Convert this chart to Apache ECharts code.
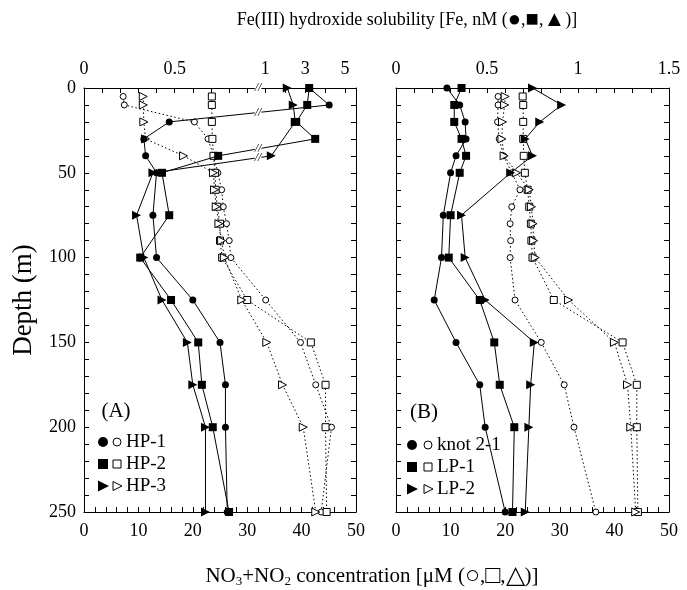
<!DOCTYPE html>
<html>
<head>
<meta charset="utf-8">
<script src="https://cdn.jsdelivr.net/npm/echarts@6/dist/echarts.min.js"></script>
<style>
    html, body { margin: 0; padding: 0; background: #fff; }
    #main { width: 687px; height: 590px; }
</style>
</head>
<body>
<div id="main"></div>
<script>
// sampling depths (m)
const feDepths = [0, 10, 20, 30, 40, 50, 75, 100, 125, 150, 175, 200, 250];
const no3Depths = [5, 10, 20, 30, 40, 50, 60, 70, 80, 90, 100, 125, 150, 175, 200, 250];

// panel A : Fe(III) hydroxide solubility (nM), null = no sample
const feHP1 = [3.2, 4.2, 0.47, 0.33, 0.34, 0.40, 0.38, 0.40, 0.60, 0.75, 0.78, 0.78, 0.79];
const feHP2 = [3.2, 3.1, 2.55, 3.5, 0.74, 0.43, 0.47, 0.31, 0.48, 0.63, 0.65, 0.71, 0.80];
const feHP3 = [2.1, 2.4, 2.5, null, 1.3, 0.38, 0.29, 0.33, 0.43, 0.57, 0.60, 0.67, 0.67];
// panel A : NO3+NO2 (uM)
const noHP1 = [7.2, 7.4, 20.3, 22.8, 23.8, 24.6, 25.3, 25.6, 26.2, 26.7, 27.0, 33.4, 39.8, 42.6, 45.5, 43.6];
const noHP2 = [23.5, 23.5, 23.5, 23.6, 23.8, 24.1, 24.2, 24.5, 25.0, 25.0, 25.4, 30.0, 41.7, 44.4, 44.4, 44.6];
const noHP3 = [10.9, 10.9, 11.0, 11.3, 18.3, 23.8, 24.0, 24.3, 24.8, 25.3, 25.8, 29.0, 33.6, 36.5, 40.3, 42.6];

// panel B : Fe (nM)
const feKnot = [0.28, 0.35, 0.38, 0.385, 0.33, 0.30, 0.26, 0.25, 0.21, 0.33, 0.46, 0.49, 0.60];
const feLP1 = [0.36, 0.32, 0.32, 0.36, 0.385, 0.35, 0.30, 0.29, 0.46, 0.54, 0.57, 0.65, 0.64];
const feLP2 = [0.75, 0.91, 0.79, 0.71, 0.75, 0.63, 0.36, 0.38, 0.49, 0.76, 0.74, 0.73, 0.71];
// panel B : NO3+NO2 (uM)
const noKnot = [18.7, 18.7, 18.6, 18.9, 19.7, 21.2, 22.7, 21.2, 20.9, 21.0, 20.9, 21.8, 26.6, 30.8, 32.6, 36.6];
const noLP1 = [23.2, 23.3, 23.3, 23.3, 23.4, 23.6, 24.1, 24.4, 24.7, 24.8, 25.0, 28.9, 41.5, 44.1, 44.1, 44.3];
const noLP2 = [20.0, 19.9, 19.5, 19.4, 19.8, 22.1, 24.4, 24.8, 25.1, 25.2, 25.5, 31.6, 40.0, 42.4, 43.0, 43.9];

// top axis tick labels of panel A (broken scale) and panel B
const feTicksA = [0, 0.5, 1, 3, 5];
const feTicksB = [0, 0.5, 1, 1.5];

const FONT = 'Liberation Serif';
const BREAK_AT = 0.96; // where the "//" sits on the broken axis

// broken scale: linear up to 1 nM, compressed above
function brk(v) {
    return v <= 1 ? v : 1 + (v - 1) * 0.11;
}
function unbrk(t) {
    return t <= 1.0001 ? t : Math.round(1 + (t - 1) / 0.11);
}

function pairs(xs, depths, transform) {
    let out = [];
    depths.forEach(function (d, i) {
        if (xs[i] == null) return;
        out.push([transform ? brk(xs[i]) : xs[i], d]);
    });
    return out;
}

function mkSeries(name, xs, depths, xi, yi, shape, open, transform) {
    let size = shape === 'rect' ? 8 : (shape === 'circle' ? 7 : 9);
    return {
        name: name,
        type: 'line',
        xAxisIndex: xi,
        yAxisIndex: yi,
        data: pairs(xs, depths, transform),
        symbol: shape,
        symbolRotate: shape === 'triangle' ? -90 : 0,
        symbolSize: open ? size - 1 : size,
        showSymbol: true,
        z: open ? 2 : 3,
        lineStyle: { color: '#000', width: 1, type: open ? [1.5, 2.5] : 'solid' },
        itemStyle: { color: open ? '#fff' : '#000', borderColor: '#000', borderWidth: open ? 1 : 0 }
    };
}

let tickStyle = { show: true, inside: true, length: 5, lineStyle: { color: '#000', width: 1 } };
let lineStyle = { show: true, onZero: false, lineStyle: { color: '#000', width: 1 } };
let labelStyle = { color: '#000', fontFamily: FONT, fontSize: 18 };

function depthAxis(gridIndex, pos, withLabels) {
    return {
        type: 'value', gridIndex: gridIndex, position: pos, inverse: true,
        min: 0, max: 250, interval: 10,
        axisLine: lineStyle, axisTick: tickStyle, splitLine: { show: false },
        axisLabel: Object.assign({}, labelStyle, {
            show: withLabels, margin: 8,
            formatter: function (v) { return v % 50 === 0 ? String(v) : ''; }
        }),
        name: withLabels ? 'Depth (m)' : '',
        nameLocation: 'middle', nameGap: 47, nameRotate: 90,
        nameTextStyle: { color: '#000', fontFamily: FONT, fontSize: 27 }
    };
}

function no3Axis(gridIndex) {
    return {
        type: 'value', gridIndex: gridIndex, position: 'bottom',
        min: 0, max: 50, interval: 2,
        axisLine: lineStyle, axisTick: tickStyle, splitLine: { show: false },
        axisLabel: Object.assign({}, labelStyle, {
            margin: 10,
            formatter: function (v) { return v % 10 === 0 ? String(v) : ''; }
        })
    };
}

let tickValsA = [];
for (let i = 0; i <= 10; i++) tickValsA.push(i / 10);
[2, 3, 4, 5].forEach(function (v) { tickValsA.push(brk(v)); });

let xAxes = [
    no3Axis(0),
    {
        type: 'value', gridIndex: 0, position: 'top', min: 0, max: 1.5,
        axisLine: lineStyle, splitLine: { show: false },
        axisTick: Object.assign({}, tickStyle, { customValues: tickValsA }),
        axisLabel: Object.assign({}, labelStyle, {
            margin: 10,
            customValues: feTicksA.map(brk),
            formatter: function (v) { return String(unbrk(v)); }
        })
    },
    no3Axis(1),
    {
        type: 'value', gridIndex: 1, position: 'top', min: 0, max: 1.5, interval: 0.1,
        axisLine: lineStyle, axisTick: tickStyle, splitLine: { show: false },
        axisLabel: Object.assign({}, labelStyle, {
            margin: 10,
            formatter: function (v) {
                let hit = feTicksB.filter(function (t) { return Math.abs(t - v) < 1e-6; });
                return hit.length ? String(hit[0]) : '';
            }
        })
    }
];

let yAxes = [
    depthAxis(0, 'left', true),
    depthAxis(0, 'right', false),
    depthAxis(1, 'left', false),
    depthAxis(1, 'right', false)
];

let series = [
    mkSeries('HP-1 NO3', noHP1, no3Depths, 0, 0, 'circle', true),
    mkSeries('HP-2 NO3', noHP2, no3Depths, 0, 0, 'rect', true),
    mkSeries('HP-3 NO3', noHP3, no3Depths, 0, 0, 'triangle', true),
    mkSeries('HP-1 Fe', feHP1, feDepths, 1, 0, 'circle', false, true),
    mkSeries('HP-2 Fe', feHP2, feDepths, 1, 0, 'rect', false, true),
    mkSeries('HP-3 Fe', feHP3, feDepths, 1, 0, 'triangle', false, true),
    mkSeries('knot 2-1 NO3', noKnot, no3Depths, 2, 2, 'circle', true),
    mkSeries('LP-1 NO3', noLP1, no3Depths, 2, 2, 'rect', true),
    mkSeries('LP-2 NO3', noLP2, no3Depths, 2, 2, 'triangle', true),
    mkSeries('knot 2-1 Fe', feKnot, feDepths, 3, 2, 'circle', false),
    mkSeries('LP-1 Fe', feLP1, feDepths, 3, 2, 'rect', false),
    mkSeries('LP-2 Fe', feLP2, feDepths, 3, 2, 'triangle', false)
];

// legend drawn by hand: filled + open marker pair, then name
function legendRow(x1, x2, xt, y, shape, text) {
    let els = [];
    [x1, x2].forEach(function (x, k) {
        let st = k === 0 ? { fill: '#000' } : { fill: '#fff', stroke: '#000', lineWidth: 1 };
        if (shape === 'circle') {
            els.push({ type: 'circle', shape: { cx: x, cy: y, r: k === 0 ? 5 : 4 }, style: st });
        } else if (shape === 'rect') {
            let s = k === 0 ? 10 : 8;
            els.push({ type: 'rect', shape: { x: x - s / 2, y: y - s / 2, width: s, height: s }, style: st });
        } else {
            let h = k === 0 ? 5 : 4;
            els.push({ type: 'polygon', shape: { points: [[x - h, y - h - 0.5], [x + h + 1, y], [x - h, y + h + 0.5]] }, style: st });
        }
    });
    els.push({ type: 'text', x: xt, y: y, style: { text: text, fill: '#000', font: '19px "' + FONT + '"', verticalAlign: 'middle', textAlign: 'left' } });
    return els;
}

let graphics = [
    {
        type: 'text', x: 407, y: 20,
        style: {
            text: 'Fe(III) hydroxide solubility [Fe, nM ({g|●},{g|■},{g|▲})]', fill: '#000', font: '18px "' + FONT + '"',
            textAlign: 'center', verticalAlign: 'middle',
            rich: { g: { fontSize: 22, fontFamily: FONT } }
        }
    },
    {
        type: 'text', x: 372, y: 576,
        style: {
            text: 'NO{s|3}+NO{s|2} concentration [μM ({g|○},{g|□},{g|△})]', fill: '#000', font: '21px "' + FONT + '"',
            textAlign: 'center', verticalAlign: 'middle',
            rich: {
                s: { fontSize: 13, fontFamily: FONT, padding: [11, 0, 0, 0] },
                g: { fontSize: 25, fontFamily: FONT }
            }
        }
    },
    { type: 'text', x: 116, y: 411, style: { text: '(A)', fill: '#000', font: '21px "' + FONT + '"', textAlign: 'center', verticalAlign: 'middle' } },
    { type: 'text', x: 424, y: 412, style: { text: '(B)', fill: '#000', font: '21px "' + FONT + '"', textAlign: 'center', verticalAlign: 'middle' } }
]
    .concat(legendRow(103, 117, 126, 442, 'circle', 'HP-1'))
    .concat(legendRow(103, 117, 126, 464, 'rect', 'HP-2'))
    .concat(legendRow(103, 117, 126, 486, 'triangle', 'HP-3'))
    .concat(legendRow(412, 428, 437, 445, 'circle', 'knot 2-1'))
    .concat(legendRow(412, 428, 437, 467, 'rect', 'LP-1'))
    .concat(legendRow(412, 428, 437, 489, 'triangle', 'LP-2'));

let myChart = echarts.init(document.getElementById('main'), null, { renderer: 'canvas' });
myChart.setOption({
    animation: false,
    backgroundColor: '#fff',
    grid: [
        { left: 84, top: 88, width: 272, height: 424 },
        { left: 396, top: 88, width: 273, height: 424 }
    ],
    xAxis: xAxes,
    yAxis: yAxes,
    series: series,
    graphic: graphics
});

// "//" marks where the broken Fe axis is crossed (axis and profiles of panel A)
let breaks = [];
let topPx = myChart.convertToPixel({ xAxisIndex: 1, yAxisIndex: 0 }, [BREAK_AT, 0]);
breaks.push(topPx);
[feHP1, feHP2, feHP3].forEach(function (arr) {
    let pts = pairs(arr, feDepths, true);
    for (let i = 1; i < pts.length; i++) {
        let a = pts[i - 1], b = pts[i];
        if ((a[0] - BREAK_AT) * (b[0] - BREAK_AT) < 0) {
            let f = (BREAK_AT - a[0]) / (b[0] - a[0]);
            let d = a[1] + f * (b[1] - a[1]);
            breaks.push(myChart.convertToPixel({ xAxisIndex: 1, yAxisIndex: 0 }, [BREAK_AT, d]));
        }
    }
});
myChart.setOption({
    graphic: graphics.concat(breaks.map(function (p) {
        return {
            type: 'text', x: p[0], y: p[1], z: 100,
            style: {
                text: '//', fill: '#000', font: 'italic 12px "' + FONT + '"',
                textAlign: 'center', verticalAlign: 'middle',
                backgroundColor: '#fff', padding: [0, 0]
            }
        };
    }))
});
</script>
</body>
</html>
